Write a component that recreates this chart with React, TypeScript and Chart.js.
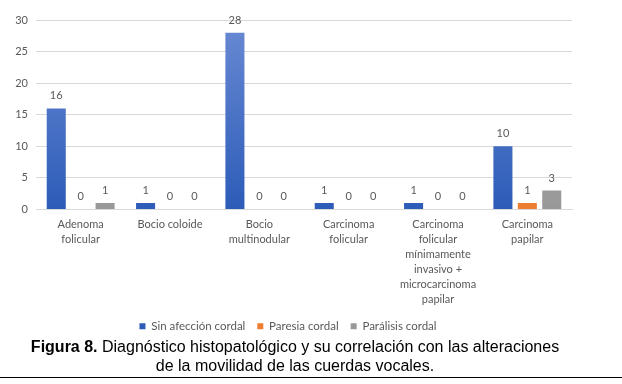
import React, { useEffect, useRef } from "react";
import { Chart, registerables } from "chart.js";

Chart.register(...registerables);

const categories: string[][] = [
  ["Adenoma", "folicular"],
  ["Bocio coloide"],
  ["Bocio", "multinodular"],
  ["Carcinoma", "folicular"],
  ["Carcinoma", "folicular", "mínimamente", "invasivo +", "microcarcinoma", "papilar"],
  ["Carcinoma", "papilar"],
];
const sinAfeccion = [16, 1, 28, 1, 1, 10];
const paresia = [0, 0, 0, 0, 0, 1];
const paralisis = [1, 0, 0, 0, 0, 3];
const yTicks = [0, 5, 10, 15, 20, 25, 30];

const FONT = "Lato, 'Open Sans', sans-serif";
const TXT = "#595959";

const labelsPlugin = {
  id: "valueLabels",
  afterDatasetsDraw(chart: any) {
    const ctx = chart.ctx;
    ctx.save();
    ctx.font = `11px ${FONT}`;
    ctx.fillStyle = TXT;
    ctx.textAlign = "center";
    ctx.textBaseline = "bottom";
    chart.data.datasets.forEach((ds: any, i: number) => {
      const meta = chart.getDatasetMeta(i);
      meta.data.forEach((bar: any, j: number) => {
        ctx.fillText(String(ds.data[j]), bar.x, bar.y - 7);
      });
    });
    ctx.restore();
  },
};

function gradient(chart: any, top: string, bottom: string) {
  const area = chart.chartArea;
  if (!area) return bottom;
  const g = chart.ctx.createLinearGradient(0, area.top, 0, area.bottom);
  g.addColorStop(0, top);
  g.addColorStop(1, bottom);
  return g;
}

export default function App() {
  const ref = useRef<HTMLCanvasElement>(null);
  useEffect(() => {
    document.body.style.margin = "0";
    const chart = new Chart(ref.current!, {
      type: "bar",
      data: {
        labels: categories,
        datasets: [
          {
            label: "Sin afección cordal",
            data: sinAfeccion,
            backgroundColor: (c: any) => gradient(c.chart, "#6a8ad3", "#2c5cb8"),
            borderWidth: 0,
          },
          {
            label: "Paresia cordal",
            data: paresia,
            backgroundColor: "#ed7d31",
          },
          {
            label: "Parálisis cordal",
            data: paralisis,
            backgroundColor: (c: any) => gradient(c.chart, "#b5b5b5", "#989898"),
          },
        ],
      },
      options: {
        animation: false,
        responsive: false,
        maintainAspectRatio: false,
        layout: { padding: { top: 20, right: 28, left: 4, bottom: 0 } },
        datasets: {
          bar: { barPercentage: 0.78, categoryPercentage: 0.82 },
        } as any,
        scales: {
          x: {
            grid: { display: false },
            border: { color: "#d9d9d9" },
            afterFit: (s: any) => {
              s.height += 2;
            },
            ticks: {
              color: TXT,
              font: { family: FONT, size: 11, lineHeight: 1.35 },
              maxRotation: 0,
              autoSkip: false,
              padding: 0,
            },
          },
          y: {
            min: 0,
            max: 30,
            afterBuildTicks: (s: any) => {
              s.ticks = yTicks.map((v) => ({ value: v }));
            },
            afterFit: (s: any) => {
              s.width = 32;
            },
            grid: { color: "#d9d9d9", drawTicks: false },
            border: { display: false },
            ticks: {
              color: TXT,
              font: { family: FONT, size: 11 },
              padding: 8,
            },
          },
        },
        plugins: {
          legend: {
            position: "bottom",
            labels: {
              color: TXT,
              font: { family: FONT, size: 11.5 },
              usePointStyle: true,
              pointStyle: "rect",
              boxWidth: 6,
              boxHeight: 6,
              padding: 12,
            },
          },
          tooltip: { enabled: false },
        },
      },
      plugins: [labelsPlugin],
    });
    return () => chart.destroy();
  }, []);

  return (
    <div style={{ position: "relative", width: 622, height: 384, background: "#fff", overflow: "hidden" }}>
      <canvas ref={ref} width={600} height={342} style={{ position: "absolute", left: 0, top: 0, width: 600, height: 342 }} />
      <div
        style={{
          position: "absolute",
          left: 0,
          top: 337,
          width: 590,
          textAlign: "center",
          fontFamily: "'Liberation Sans', Arial, sans-serif",
          fontSize: 16,
          lineHeight: "19px",
          color: "#000",
        }}
      >
        <b>Figura 8.</b> Diagnóstico histopatológico y su correlación con las alteraciones
        <br />
        de la movilidad de las cuerdas vocales.
      </div>
      <div style={{ position: "absolute", left: 0, top: 377, width: 622, height: 1, background: "#000" }} />
    </div>
  );
}
